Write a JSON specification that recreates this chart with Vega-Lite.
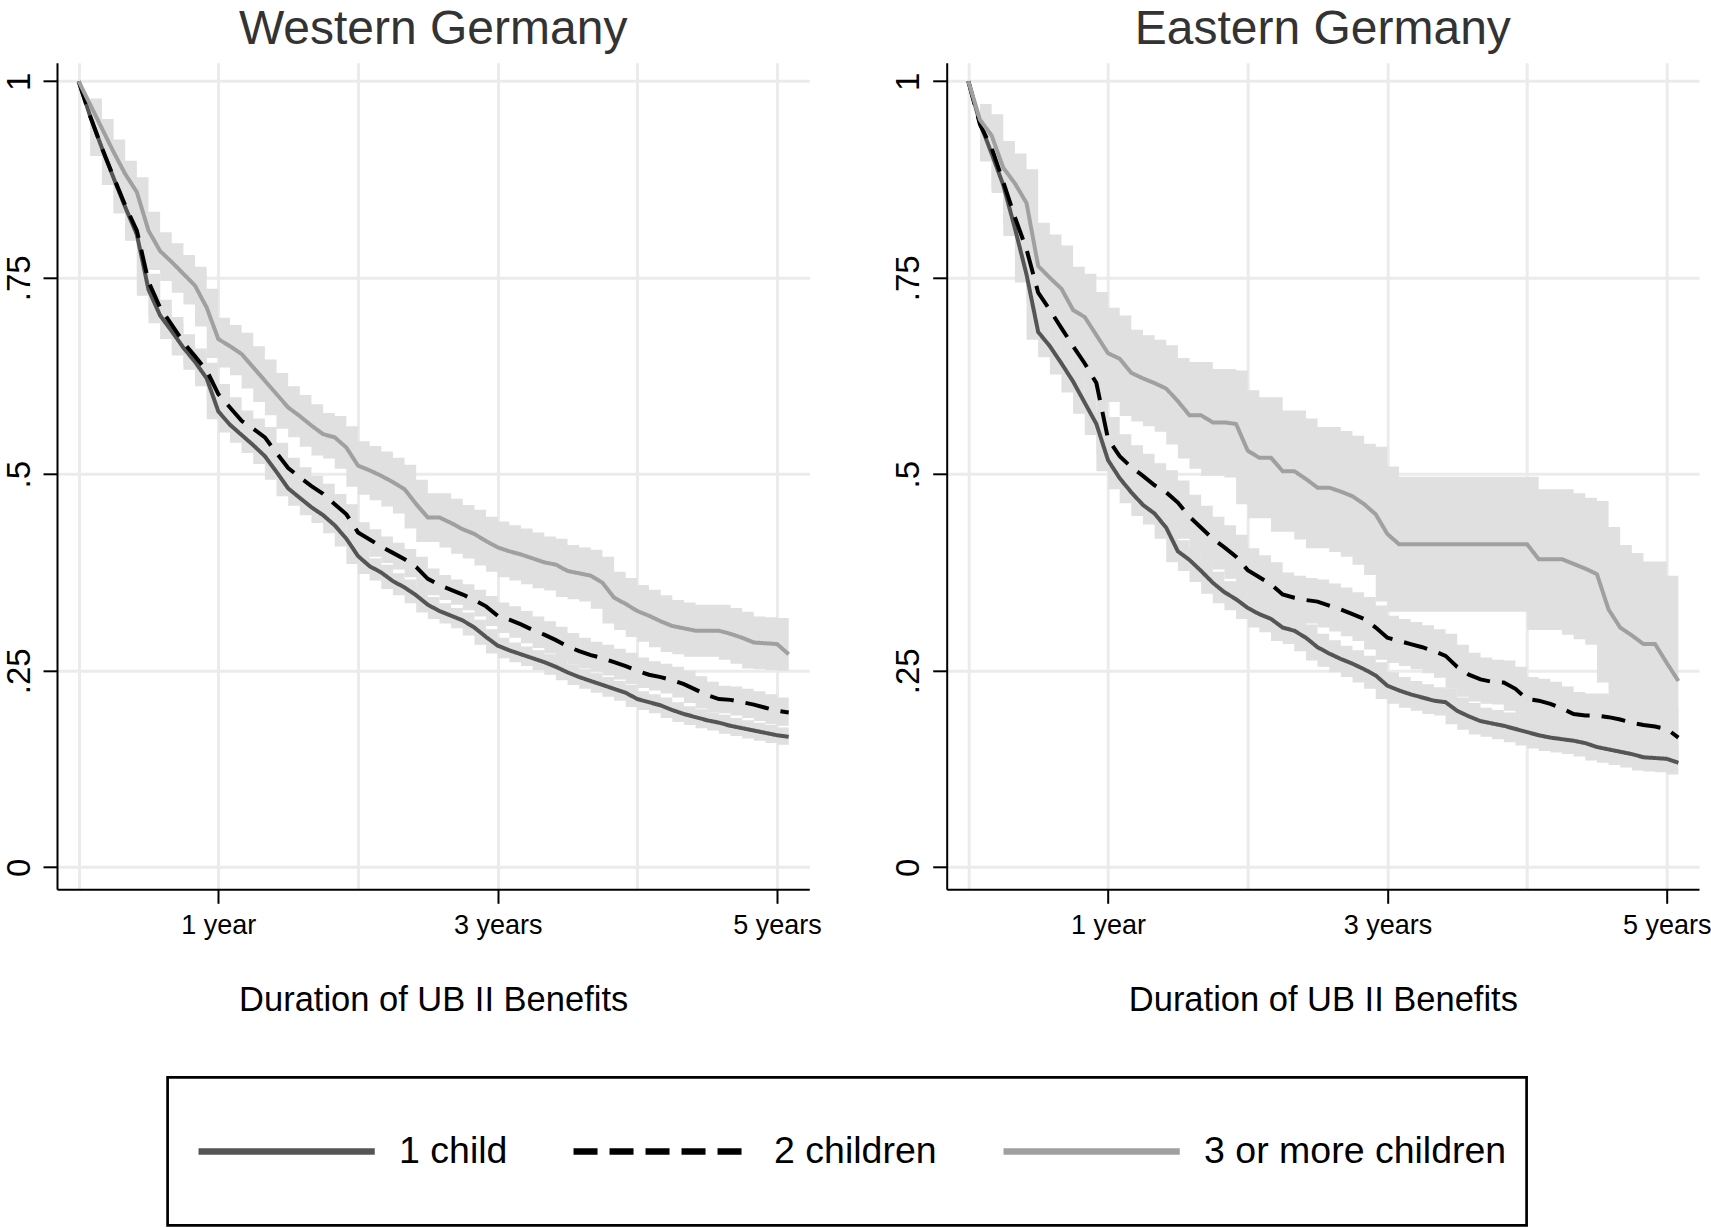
{
"$schema": "https://vega.github.io/schema/vega-lite/v6.json",
"background": "white",
"autosize": {"type": "pad"},
"padding": {"left": 3, "top": 5.8, "right": 0, "bottom": 0},
"config": {
  "font": "Liberation Sans",
  "view": {"stroke": null},
  "axis": {"domainColor": "black", "domainWidth": 2, "tickColor": "black", "tickWidth": 2, "tickSize": 14, "gridColor": "#ebebeb", "gridWidth": 3, "labelColor": "black", "labelFont": "Liberation Sans", "titleFont": "Liberation Sans", "titleColor": "black", "titleFontWeight": "normal"}
},
"data": {"values": [
{"r":"Western Germany","g":"1 child","m":0,"s":1,"lo":1,"hi":1},
{"r":"Western Germany","g":"1 child","m":1,"s":0.955,"lo":0.907,"hi":0.963},
{"r":"Western Germany","g":"1 child","m":2,"s":0.915,"lo":0.869,"hi":0.923},
{"r":"Western Germany","g":"1 child","m":3,"s":0.877,"lo":0.832,"hi":0.885},
{"r":"Western Germany","g":"1 child","m":4,"s":0.840,"lo":0.797,"hi":0.848},
{"r":"Western Germany","g":"1 child","m":5,"s":0.805,"lo":0.727,"hi":0.813},
{"r":"Western Germany","g":"1 child","m":6,"s":0.735,"lo":0.692,"hi":0.745},
{"r":"Western Germany","g":"1 child","m":7,"s":0.702,"lo":0.672,"hi":0.712},
{"r":"Western Germany","g":"1 child","m":8,"s":0.682,"lo":0.651,"hi":0.692},
{"r":"Western Germany","g":"1 child","m":9,"s":0.661,"lo":0.633,"hi":0.671},
{"r":"Western Germany","g":"1 child","m":10,"s":0.643,"lo":0.612,"hi":0.653},
{"r":"Western Germany","g":"1 child","m":11,"s":0.622,"lo":0.570,"hi":0.632},
{"r":"Western Germany","g":"1 child","m":12,"s":0.580,"lo":0.553,"hi":0.590},
{"r":"Western Germany","g":"1 child","m":13,"s":0.563,"lo":0.540,"hi":0.573},
{"r":"Western Germany","g":"1 child","m":14,"s":0.550,"lo":0.527,"hi":0.560},
{"r":"Western Germany","g":"1 child","m":15,"s":0.537,"lo":0.513,"hi":0.547},
{"r":"Western Germany","g":"1 child","m":16,"s":0.523,"lo":0.493,"hi":0.533},
{"r":"Western Germany","g":"1 child","m":17,"s":0.503,"lo":0.472,"hi":0.513},
{"r":"Western Germany","g":"1 child","m":18,"s":0.482,"lo":0.460,"hi":0.492},
{"r":"Western Germany","g":"1 child","m":19,"s":0.470,"lo":0.448,"hi":0.480},
{"r":"Western Germany","g":"1 child","m":20,"s":0.458,"lo":0.438,"hi":0.468},
{"r":"Western Germany","g":"1 child","m":21,"s":0.448,"lo":0.425,"hi":0.458},
{"r":"Western Germany","g":"1 child","m":22,"s":0.435,"lo":0.408,"hi":0.445},
{"r":"Western Germany","g":"1 child","m":23,"s":0.418,"lo":0.386,"hi":0.428},
{"r":"Western Germany","g":"1 child","m":24,"s":0.396,"lo":0.373,"hi":0.406},
{"r":"Western Germany","g":"1 child","m":25,"s":0.383,"lo":0.365,"hi":0.393},
{"r":"Western Germany","g":"1 child","m":26,"s":0.375,"lo":0.354,"hi":0.385},
{"r":"Western Germany","g":"1 child","m":27,"s":0.364,"lo":0.346,"hi":0.374},
{"r":"Western Germany","g":"1 child","m":28,"s":0.356,"lo":0.336,"hi":0.366},
{"r":"Western Germany","g":"1 child","m":29,"s":0.346,"lo":0.324,"hi":0.356},
{"r":"Western Germany","g":"1 child","m":30,"s":0.334,"lo":0.316,"hi":0.344},
{"r":"Western Germany","g":"1 child","m":31,"s":0.326,"lo":0.310,"hi":0.336},
{"r":"Western Germany","g":"1 child","m":32,"s":0.320,"lo":0.304,"hi":0.330},
{"r":"Western Germany","g":"1 child","m":33,"s":0.314,"lo":0.295,"hi":0.324},
{"r":"Western Germany","g":"1 child","m":34,"s":0.305,"lo":0.283,"hi":0.315},
{"r":"Western Germany","g":"1 child","m":35,"s":0.293,"lo":0.272,"hi":0.303},
{"r":"Western Germany","g":"1 child","m":36,"s":0.282,"lo":0.266,"hi":0.292},
{"r":"Western Germany","g":"1 child","m":37,"s":0.276,"lo":0.261,"hi":0.286},
{"r":"Western Germany","g":"1 child","m":38,"s":0.271,"lo":0.256,"hi":0.281},
{"r":"Western Germany","g":"1 child","m":39,"s":0.266,"lo":0.251,"hi":0.276},
{"r":"Western Germany","g":"1 child","m":40,"s":0.261,"lo":0.245,"hi":0.271},
{"r":"Western Germany","g":"1 child","m":41,"s":0.255,"lo":0.238,"hi":0.265},
{"r":"Western Germany","g":"1 child","m":42,"s":0.248,"lo":0.232,"hi":0.258},
{"r":"Western Germany","g":"1 child","m":43,"s":0.242,"lo":0.227,"hi":0.252},
{"r":"Western Germany","g":"1 child","m":44,"s":0.237,"lo":0.222,"hi":0.247},
{"r":"Western Germany","g":"1 child","m":45,"s":0.232,"lo":0.217,"hi":0.242},
{"r":"Western Germany","g":"1 child","m":46,"s":0.227,"lo":0.212,"hi":0.237},
{"r":"Western Germany","g":"1 child","m":47,"s":0.222,"lo":0.204,"hi":0.232},
{"r":"Western Germany","g":"1 child","m":48,"s":0.214,"lo":0.200,"hi":0.224},
{"r":"Western Germany","g":"1 child","m":49,"s":0.210,"lo":0.196,"hi":0.220},
{"r":"Western Germany","g":"1 child","m":50,"s":0.206,"lo":0.190,"hi":0.216},
{"r":"Western Germany","g":"1 child","m":51,"s":0.200,"lo":0.185,"hi":0.210},
{"r":"Western Germany","g":"1 child","m":52,"s":0.195,"lo":0.181,"hi":0.205},
{"r":"Western Germany","g":"1 child","m":53,"s":0.191,"lo":0.177,"hi":0.201},
{"r":"Western Germany","g":"1 child","m":54,"s":0.187,"lo":0.174,"hi":0.197},
{"r":"Western Germany","g":"1 child","m":55,"s":0.184,"lo":0.170,"hi":0.194},
{"r":"Western Germany","g":"1 child","m":56,"s":0.180,"lo":0.167,"hi":0.190},
{"r":"Western Germany","g":"1 child","m":57,"s":0.177,"lo":0.164,"hi":0.187},
{"r":"Western Germany","g":"1 child","m":58,"s":0.174,"lo":0.161,"hi":0.184},
{"r":"Western Germany","g":"1 child","m":59,"s":0.171,"lo":0.158,"hi":0.181},
{"r":"Western Germany","g":"1 child","m":60,"s":0.168,"lo":0.156,"hi":0.178},
{"r":"Western Germany","g":"1 child","m":61,"s":0.166,"lo":0.156,"hi":0.178},
{"r":"Western Germany","g":"2 children","m":0,"s":1,"lo":1,"hi":1},
{"r":"Western Germany","g":"2 children","m":1,"s":0.955,"lo":0.905,"hi":0.965},
{"r":"Western Germany","g":"2 children","m":2,"s":0.915,"lo":0.868,"hi":0.925},
{"r":"Western Germany","g":"2 children","m":3,"s":0.878,"lo":0.832,"hi":0.888},
{"r":"Western Germany","g":"2 children","m":4,"s":0.842,"lo":0.800,"hi":0.852},
{"r":"Western Germany","g":"2 children","m":5,"s":0.810,"lo":0.735,"hi":0.820},
{"r":"Western Germany","g":"2 children","m":6,"s":0.745,"lo":0.702,"hi":0.755},
{"r":"Western Germany","g":"2 children","m":7,"s":0.712,"lo":0.680,"hi":0.722},
{"r":"Western Germany","g":"2 children","m":8,"s":0.690,"lo":0.658,"hi":0.700},
{"r":"Western Germany","g":"2 children","m":9,"s":0.668,"lo":0.640,"hi":0.678},
{"r":"Western Germany","g":"2 children","m":10,"s":0.650,"lo":0.622,"hi":0.660},
{"r":"Western Germany","g":"2 children","m":11,"s":0.632,"lo":0.592,"hi":0.642},
{"r":"Western Germany","g":"2 children","m":12,"s":0.602,"lo":0.572,"hi":0.615},
{"r":"Western Germany","g":"2 children","m":13,"s":0.585,"lo":0.555,"hi":0.598},
{"r":"Western Germany","g":"2 children","m":14,"s":0.568,"lo":0.545,"hi":0.581},
{"r":"Western Germany","g":"2 children","m":15,"s":0.558,"lo":0.534,"hi":0.571},
{"r":"Western Germany","g":"2 children","m":16,"s":0.547,"lo":0.514,"hi":0.560},
{"r":"Western Germany","g":"2 children","m":17,"s":0.527,"lo":0.495,"hi":0.540},
{"r":"Western Germany","g":"2 children","m":18,"s":0.508,"lo":0.483,"hi":0.521},
{"r":"Western Germany","g":"2 children","m":19,"s":0.496,"lo":0.472,"hi":0.509},
{"r":"Western Germany","g":"2 children","m":20,"s":0.485,"lo":0.462,"hi":0.498},
{"r":"Western Germany","g":"2 children","m":21,"s":0.475,"lo":0.449,"hi":0.488},
{"r":"Western Germany","g":"2 children","m":22,"s":0.462,"lo":0.436,"hi":0.475},
{"r":"Western Germany","g":"2 children","m":23,"s":0.449,"lo":0.413,"hi":0.462},
{"r":"Western Germany","g":"2 children","m":24,"s":0.426,"lo":0.404,"hi":0.439},
{"r":"Western Germany","g":"2 children","m":25,"s":0.417,"lo":0.395,"hi":0.430},
{"r":"Western Germany","g":"2 children","m":26,"s":0.408,"lo":0.387,"hi":0.421},
{"r":"Western Germany","g":"2 children","m":27,"s":0.400,"lo":0.379,"hi":0.413},
{"r":"Western Germany","g":"2 children","m":28,"s":0.392,"lo":0.369,"hi":0.405},
{"r":"Western Germany","g":"2 children","m":29,"s":0.382,"lo":0.354,"hi":0.395},
{"r":"Western Germany","g":"2 children","m":30,"s":0.367,"lo":0.346,"hi":0.380},
{"r":"Western Germany","g":"2 children","m":31,"s":0.359,"lo":0.340,"hi":0.372},
{"r":"Western Germany","g":"2 children","m":32,"s":0.353,"lo":0.334,"hi":0.366},
{"r":"Western Germany","g":"2 children","m":33,"s":0.347,"lo":0.327,"hi":0.360},
{"r":"Western Germany","g":"2 children","m":34,"s":0.340,"lo":0.319,"hi":0.353},
{"r":"Western Germany","g":"2 children","m":35,"s":0.332,"lo":0.307,"hi":0.345},
{"r":"Western Germany","g":"2 children","m":36,"s":0.320,"lo":0.298,"hi":0.337},
{"r":"Western Germany","g":"2 children","m":37,"s":0.315,"lo":0.292,"hi":0.332},
{"r":"Western Germany","g":"2 children","m":38,"s":0.309,"lo":0.285,"hi":0.326},
{"r":"Western Germany","g":"2 children","m":39,"s":0.302,"lo":0.279,"hi":0.319},
{"r":"Western Germany","g":"2 children","m":40,"s":0.296,"lo":0.272,"hi":0.313},
{"r":"Western Germany","g":"2 children","m":41,"s":0.289,"lo":0.264,"hi":0.306},
{"r":"Western Germany","g":"2 children","m":42,"s":0.281,"lo":0.258,"hi":0.298},
{"r":"Western Germany","g":"2 children","m":43,"s":0.275,"lo":0.253,"hi":0.292},
{"r":"Western Germany","g":"2 children","m":44,"s":0.270,"lo":0.249,"hi":0.287},
{"r":"Western Germany","g":"2 children","m":45,"s":0.266,"lo":0.244,"hi":0.283},
{"r":"Western Germany","g":"2 children","m":46,"s":0.261,"lo":0.239,"hi":0.278},
{"r":"Western Germany","g":"2 children","m":47,"s":0.256,"lo":0.233,"hi":0.273},
{"r":"Western Germany","g":"2 children","m":48,"s":0.250,"lo":0.228,"hi":0.267},
{"r":"Western Germany","g":"2 children","m":49,"s":0.245,"lo":0.225,"hi":0.262},
{"r":"Western Germany","g":"2 children","m":50,"s":0.242,"lo":0.221,"hi":0.259},
{"r":"Western Germany","g":"2 children","m":51,"s":0.238,"lo":0.216,"hi":0.255},
{"r":"Western Germany","g":"2 children","m":52,"s":0.233,"lo":0.209,"hi":0.250},
{"r":"Western Germany","g":"2 children","m":53,"s":0.226,"lo":0.202,"hi":0.243},
{"r":"Western Germany","g":"2 children","m":54,"s":0.219,"lo":0.197,"hi":0.236},
{"r":"Western Germany","g":"2 children","m":55,"s":0.214,"lo":0.196,"hi":0.231},
{"r":"Western Germany","g":"2 children","m":56,"s":0.213,"lo":0.193,"hi":0.230},
{"r":"Western Germany","g":"2 children","m":57,"s":0.210,"lo":0.190,"hi":0.227},
{"r":"Western Germany","g":"2 children","m":58,"s":0.207,"lo":0.186,"hi":0.224},
{"r":"Western Germany","g":"2 children","m":59,"s":0.203,"lo":0.182,"hi":0.220},
{"r":"Western Germany","g":"2 children","m":60,"s":0.199,"lo":0.180,"hi":0.216},
{"r":"Western Germany","g":"2 children","m":61,"s":0.197,"lo":0.180,"hi":0.216},
{"r":"Western Germany","g":"3 or more children","m":0,"s":1,"lo":1,"hi":1},
{"r":"Western Germany","g":"3 or more children","m":1,"s":0.970,"lo":0.932,"hi":0.978},
{"r":"Western Germany","g":"3 or more children","m":2,"s":0.940,"lo":0.898,"hi":0.952},
{"r":"Western Germany","g":"3 or more children","m":3,"s":0.910,"lo":0.866,"hi":0.926},
{"r":"Western Germany","g":"3 or more children","m":4,"s":0.882,"lo":0.842,"hi":0.899},
{"r":"Western Germany","g":"3 or more children","m":5,"s":0.859,"lo":0.791,"hi":0.878},
{"r":"Western Germany","g":"3 or more children","m":6,"s":0.810,"lo":0.760,"hi":0.834},
{"r":"Western Germany","g":"3 or more children","m":7,"s":0.784,"lo":0.746,"hi":0.808},
{"r":"Western Germany","g":"3 or more children","m":8,"s":0.770,"lo":0.731,"hi":0.794},
{"r":"Western Germany","g":"3 or more children","m":9,"s":0.755,"lo":0.716,"hi":0.779},
{"r":"Western Germany","g":"3 or more children","m":10,"s":0.740,"lo":0.688,"hi":0.764},
{"r":"Western Germany","g":"3 or more children","m":11,"s":0.712,"lo":0.648,"hi":0.736},
{"r":"Western Germany","g":"3 or more children","m":12,"s":0.672,"lo":0.636,"hi":0.699},
{"r":"Western Germany","g":"3 or more children","m":13,"s":0.663,"lo":0.626,"hi":0.690},
{"r":"Western Germany","g":"3 or more children","m":14,"s":0.653,"lo":0.609,"hi":0.680},
{"r":"Western Germany","g":"3 or more children","m":15,"s":0.636,"lo":0.592,"hi":0.663},
{"r":"Western Germany","g":"3 or more children","m":16,"s":0.619,"lo":0.575,"hi":0.646},
{"r":"Western Germany","g":"3 or more children","m":17,"s":0.602,"lo":0.558,"hi":0.629},
{"r":"Western Germany","g":"3 or more children","m":18,"s":0.585,"lo":0.547,"hi":0.612},
{"r":"Western Germany","g":"3 or more children","m":19,"s":0.574,"lo":0.535,"hi":0.601},
{"r":"Western Germany","g":"3 or more children","m":20,"s":0.562,"lo":0.524,"hi":0.589},
{"r":"Western Germany","g":"3 or more children","m":21,"s":0.551,"lo":0.520,"hi":0.578},
{"r":"Western Germany","g":"3 or more children","m":22,"s":0.547,"lo":0.507,"hi":0.574},
{"r":"Western Germany","g":"3 or more children","m":23,"s":0.534,"lo":0.484,"hi":0.561},
{"r":"Western Germany","g":"3 or more children","m":24,"s":0.511,"lo":0.474,"hi":0.542},
{"r":"Western Germany","g":"3 or more children","m":25,"s":0.505,"lo":0.467,"hi":0.536},
{"r":"Western Germany","g":"3 or more children","m":26,"s":0.498,"lo":0.459,"hi":0.529},
{"r":"Western Germany","g":"3 or more children","m":27,"s":0.490,"lo":0.450,"hi":0.521},
{"r":"Western Germany","g":"3 or more children","m":28,"s":0.481,"lo":0.431,"hi":0.512},
{"r":"Western Germany","g":"3 or more children","m":29,"s":0.462,"lo":0.414,"hi":0.493},
{"r":"Western Germany","g":"3 or more children","m":30,"s":0.445,"lo":0.414,"hi":0.476},
{"r":"Western Germany","g":"3 or more children","m":31,"s":0.445,"lo":0.407,"hi":0.476},
{"r":"Western Germany","g":"3 or more children","m":32,"s":0.438,"lo":0.399,"hi":0.469},
{"r":"Western Germany","g":"3 or more children","m":33,"s":0.430,"lo":0.393,"hi":0.461},
{"r":"Western Germany","g":"3 or more children","m":34,"s":0.424,"lo":0.384,"hi":0.455},
{"r":"Western Germany","g":"3 or more children","m":35,"s":0.415,"lo":0.376,"hi":0.446},
{"r":"Western Germany","g":"3 or more children","m":36,"s":0.407,"lo":0.369,"hi":0.440},
{"r":"Western Germany","g":"3 or more children","m":37,"s":0.402,"lo":0.365,"hi":0.435},
{"r":"Western Germany","g":"3 or more children","m":38,"s":0.398,"lo":0.360,"hi":0.431},
{"r":"Western Germany","g":"3 or more children","m":39,"s":0.393,"lo":0.355,"hi":0.426},
{"r":"Western Germany","g":"3 or more children","m":40,"s":0.388,"lo":0.352,"hi":0.421},
{"r":"Western Germany","g":"3 or more children","m":41,"s":0.385,"lo":0.344,"hi":0.418},
{"r":"Western Germany","g":"3 or more children","m":42,"s":0.377,"lo":0.341,"hi":0.410},
{"r":"Western Germany","g":"3 or more children","m":43,"s":0.374,"lo":0.338,"hi":0.407},
{"r":"Western Germany","g":"3 or more children","m":44,"s":0.371,"lo":0.329,"hi":0.404},
{"r":"Western Germany","g":"3 or more children","m":45,"s":0.362,"lo":0.310,"hi":0.395},
{"r":"Western Germany","g":"3 or more children","m":46,"s":0.343,"lo":0.302,"hi":0.376},
{"r":"Western Germany","g":"3 or more children","m":47,"s":0.335,"lo":0.293,"hi":0.368},
{"r":"Western Germany","g":"3 or more children","m":48,"s":0.326,"lo":0.287,"hi":0.359},
{"r":"Western Germany","g":"3 or more children","m":49,"s":0.320,"lo":0.280,"hi":0.353},
{"r":"Western Germany","g":"3 or more children","m":50,"s":0.313,"lo":0.274,"hi":0.346},
{"r":"Western Germany","g":"3 or more children","m":51,"s":0.307,"lo":0.271,"hi":0.340},
{"r":"Western Germany","g":"3 or more children","m":52,"s":0.304,"lo":0.268,"hi":0.337},
{"r":"Western Germany","g":"3 or more children","m":53,"s":0.301,"lo":0.268,"hi":0.334},
{"r":"Western Germany","g":"3 or more children","m":54,"s":0.301,"lo":0.268,"hi":0.334},
{"r":"Western Germany","g":"3 or more children","m":55,"s":0.301,"lo":0.264,"hi":0.334},
{"r":"Western Germany","g":"3 or more children","m":56,"s":0.297,"lo":0.259,"hi":0.330},
{"r":"Western Germany","g":"3 or more children","m":57,"s":0.292,"lo":0.253,"hi":0.325},
{"r":"Western Germany","g":"3 or more children","m":58,"s":0.286,"lo":0.252,"hi":0.319},
{"r":"Western Germany","g":"3 or more children","m":59,"s":0.285,"lo":0.251,"hi":0.318},
{"r":"Western Germany","g":"3 or more children","m":60,"s":0.284,"lo":0.250,"hi":0.317},
{"r":"Western Germany","g":"3 or more children","m":61,"s":0.271,"lo":0.250,"hi":0.317},
{"r":"Eastern Germany","g":"1 child","m":0,"s":1,"lo":1,"hi":1},
{"r":"Eastern Germany","g":"1 child","m":1,"s":0.947,"lo":0.898,"hi":0.957},
{"r":"Eastern Germany","g":"1 child","m":2,"s":0.908,"lo":0.858,"hi":0.918},
{"r":"Eastern Germany","g":"1 child","m":3,"s":0.868,"lo":0.803,"hi":0.878},
{"r":"Eastern Germany","g":"1 child","m":4,"s":0.813,"lo":0.744,"hi":0.823},
{"r":"Eastern Germany","g":"1 child","m":5,"s":0.754,"lo":0.671,"hi":0.764},
{"r":"Eastern Germany","g":"1 child","m":6,"s":0.681,"lo":0.649,"hi":0.695},
{"r":"Eastern Germany","g":"1 child","m":7,"s":0.663,"lo":0.627,"hi":0.677},
{"r":"Eastern Germany","g":"1 child","m":8,"s":0.641,"lo":0.604,"hi":0.655},
{"r":"Eastern Germany","g":"1 child","m":9,"s":0.618,"lo":0.577,"hi":0.632},
{"r":"Eastern Germany","g":"1 child","m":10,"s":0.591,"lo":0.550,"hi":0.605},
{"r":"Eastern Germany","g":"1 child","m":11,"s":0.564,"lo":0.504,"hi":0.578},
{"r":"Eastern Germany","g":"1 child","m":12,"s":0.518,"lo":0.481,"hi":0.532},
{"r":"Eastern Germany","g":"1 child","m":13,"s":0.495,"lo":0.463,"hi":0.509},
{"r":"Eastern Germany","g":"1 child","m":14,"s":0.477,"lo":0.447,"hi":0.491},
{"r":"Eastern Germany","g":"1 child","m":15,"s":0.461,"lo":0.436,"hi":0.475},
{"r":"Eastern Germany","g":"1 child","m":16,"s":0.450,"lo":0.418,"hi":0.464},
{"r":"Eastern Germany","g":"1 child","m":17,"s":0.432,"lo":0.388,"hi":0.446},
{"r":"Eastern Germany","g":"1 child","m":18,"s":0.402,"lo":0.377,"hi":0.416},
{"r":"Eastern Germany","g":"1 child","m":19,"s":0.391,"lo":0.363,"hi":0.405},
{"r":"Eastern Germany","g":"1 child","m":20,"s":0.377,"lo":0.348,"hi":0.391},
{"r":"Eastern Germany","g":"1 child","m":21,"s":0.362,"lo":0.336,"hi":0.376},
{"r":"Eastern Germany","g":"1 child","m":22,"s":0.350,"lo":0.327,"hi":0.364},
{"r":"Eastern Germany","g":"1 child","m":23,"s":0.341,"lo":0.316,"hi":0.355},
{"r":"Eastern Germany","g":"1 child","m":24,"s":0.330,"lo":0.305,"hi":0.347},
{"r":"Eastern Germany","g":"1 child","m":25,"s":0.322,"lo":0.299,"hi":0.339},
{"r":"Eastern Germany","g":"1 child","m":26,"s":0.316,"lo":0.288,"hi":0.333},
{"r":"Eastern Germany","g":"1 child","m":27,"s":0.305,"lo":0.284,"hi":0.322},
{"r":"Eastern Germany","g":"1 child","m":28,"s":0.301,"lo":0.275,"hi":0.318},
{"r":"Eastern Germany","g":"1 child","m":29,"s":0.292,"lo":0.263,"hi":0.309},
{"r":"Eastern Germany","g":"1 child","m":30,"s":0.280,"lo":0.255,"hi":0.297},
{"r":"Eastern Germany","g":"1 child","m":31,"s":0.272,"lo":0.248,"hi":0.289},
{"r":"Eastern Germany","g":"1 child","m":32,"s":0.265,"lo":0.242,"hi":0.282},
{"r":"Eastern Germany","g":"1 child","m":33,"s":0.259,"lo":0.235,"hi":0.276},
{"r":"Eastern Germany","g":"1 child","m":34,"s":0.252,"lo":0.227,"hi":0.269},
{"r":"Eastern Germany","g":"1 child","m":35,"s":0.244,"lo":0.214,"hi":0.261},
{"r":"Eastern Germany","g":"1 child","m":36,"s":0.231,"lo":0.208,"hi":0.248},
{"r":"Eastern Germany","g":"1 child","m":37,"s":0.225,"lo":0.203,"hi":0.242},
{"r":"Eastern Germany","g":"1 child","m":38,"s":0.220,"lo":0.199,"hi":0.237},
{"r":"Eastern Germany","g":"1 child","m":39,"s":0.216,"lo":0.195,"hi":0.233},
{"r":"Eastern Germany","g":"1 child","m":40,"s":0.212,"lo":0.193,"hi":0.229},
{"r":"Eastern Germany","g":"1 child","m":41,"s":0.210,"lo":0.182,"hi":0.227},
{"r":"Eastern Germany","g":"1 child","m":42,"s":0.199,"lo":0.175,"hi":0.216},
{"r":"Eastern Germany","g":"1 child","m":43,"s":0.192,"lo":0.169,"hi":0.209},
{"r":"Eastern Germany","g":"1 child","m":44,"s":0.186,"lo":0.166,"hi":0.203},
{"r":"Eastern Germany","g":"1 child","m":45,"s":0.183,"lo":0.163,"hi":0.200},
{"r":"Eastern Germany","g":"1 child","m":46,"s":0.180,"lo":0.159,"hi":0.197},
{"r":"Eastern Germany","g":"1 child","m":47,"s":0.176,"lo":0.155,"hi":0.193},
{"r":"Eastern Germany","g":"1 child","m":48,"s":0.172,"lo":0.151,"hi":0.189},
{"r":"Eastern Germany","g":"1 child","m":49,"s":0.168,"lo":0.148,"hi":0.185},
{"r":"Eastern Germany","g":"1 child","m":50,"s":0.165,"lo":0.146,"hi":0.182},
{"r":"Eastern Germany","g":"1 child","m":51,"s":0.163,"lo":0.144,"hi":0.180},
{"r":"Eastern Germany","g":"1 child","m":52,"s":0.161,"lo":0.141,"hi":0.178},
{"r":"Eastern Germany","g":"1 child","m":53,"s":0.158,"lo":0.136,"hi":0.175},
{"r":"Eastern Germany","g":"1 child","m":54,"s":0.153,"lo":0.133,"hi":0.170},
{"r":"Eastern Germany","g":"1 child","m":55,"s":0.150,"lo":0.130,"hi":0.167},
{"r":"Eastern Germany","g":"1 child","m":56,"s":0.147,"lo":0.127,"hi":0.164},
{"r":"Eastern Germany","g":"1 child","m":57,"s":0.144,"lo":0.123,"hi":0.161},
{"r":"Eastern Germany","g":"1 child","m":58,"s":0.140,"lo":0.122,"hi":0.157},
{"r":"Eastern Germany","g":"1 child","m":59,"s":0.139,"lo":0.121,"hi":0.156},
{"r":"Eastern Germany","g":"1 child","m":60,"s":0.138,"lo":0.118,"hi":0.155},
{"r":"Eastern Germany","g":"1 child","m":61,"s":0.133,"lo":0.118,"hi":0.155},
{"r":"Eastern Germany","g":"2 children","m":0,"s":1,"lo":1,"hi":1},
{"r":"Eastern Germany","g":"2 children","m":1,"s":0.945,"lo":0.903,"hi":0.957},
{"r":"Eastern Germany","g":"2 children","m":2,"s":0.915,"lo":0.860,"hi":0.927},
{"r":"Eastern Germany","g":"2 children","m":3,"s":0.872,"lo":0.815,"hi":0.884},
{"r":"Eastern Germany","g":"2 children","m":4,"s":0.827,"lo":0.774,"hi":0.839},
{"r":"Eastern Germany","g":"2 children","m":5,"s":0.786,"lo":0.719,"hi":0.798},
{"r":"Eastern Germany","g":"2 children","m":6,"s":0.731,"lo":0.689,"hi":0.751},
{"r":"Eastern Germany","g":"2 children","m":7,"s":0.709,"lo":0.666,"hi":0.729},
{"r":"Eastern Germany","g":"2 children","m":8,"s":0.686,"lo":0.643,"hi":0.706},
{"r":"Eastern Germany","g":"2 children","m":9,"s":0.663,"lo":0.621,"hi":0.683},
{"r":"Eastern Germany","g":"2 children","m":10,"s":0.641,"lo":0.596,"hi":0.661},
{"r":"Eastern Germany","g":"2 children","m":11,"s":0.616,"lo":0.525,"hi":0.636},
{"r":"Eastern Germany","g":"2 children","m":12,"s":0.545,"lo":0.495,"hi":0.573},
{"r":"Eastern Germany","g":"2 children","m":13,"s":0.523,"lo":0.481,"hi":0.551},
{"r":"Eastern Germany","g":"2 children","m":14,"s":0.509,"lo":0.470,"hi":0.537},
{"r":"Eastern Germany","g":"2 children","m":15,"s":0.498,"lo":0.458,"hi":0.526},
{"r":"Eastern Germany","g":"2 children","m":16,"s":0.486,"lo":0.449,"hi":0.514},
{"r":"Eastern Germany","g":"2 children","m":17,"s":0.477,"lo":0.436,"hi":0.505},
{"r":"Eastern Germany","g":"2 children","m":18,"s":0.464,"lo":0.418,"hi":0.492},
{"r":"Eastern Germany","g":"2 children","m":19,"s":0.446,"lo":0.404,"hi":0.474},
{"r":"Eastern Germany","g":"2 children","m":20,"s":0.432,"lo":0.390,"hi":0.460},
{"r":"Eastern Germany","g":"2 children","m":21,"s":0.418,"lo":0.379,"hi":0.446},
{"r":"Eastern Germany","g":"2 children","m":22,"s":0.407,"lo":0.367,"hi":0.435},
{"r":"Eastern Germany","g":"2 children","m":23,"s":0.395,"lo":0.350,"hi":0.423},
{"r":"Eastern Germany","g":"2 children","m":24,"s":0.378,"lo":0.341,"hi":0.406},
{"r":"Eastern Germany","g":"2 children","m":25,"s":0.369,"lo":0.332,"hi":0.397},
{"r":"Eastern Germany","g":"2 children","m":26,"s":0.360,"lo":0.319,"hi":0.388},
{"r":"Eastern Germany","g":"2 children","m":27,"s":0.347,"lo":0.315,"hi":0.375},
{"r":"Eastern Germany","g":"2 children","m":28,"s":0.343,"lo":0.312,"hi":0.371},
{"r":"Eastern Germany","g":"2 children","m":29,"s":0.340,"lo":0.310,"hi":0.368},
{"r":"Eastern Germany","g":"2 children","m":30,"s":0.338,"lo":0.305,"hi":0.366},
{"r":"Eastern Germany","g":"2 children","m":31,"s":0.333,"lo":0.300,"hi":0.361},
{"r":"Eastern Germany","g":"2 children","m":32,"s":0.328,"lo":0.294,"hi":0.356},
{"r":"Eastern Germany","g":"2 children","m":33,"s":0.322,"lo":0.288,"hi":0.350},
{"r":"Eastern Germany","g":"2 children","m":34,"s":0.316,"lo":0.277,"hi":0.344},
{"r":"Eastern Germany","g":"2 children","m":35,"s":0.305,"lo":0.264,"hi":0.333},
{"r":"Eastern Germany","g":"2 children","m":36,"s":0.292,"lo":0.260,"hi":0.320},
{"r":"Eastern Germany","g":"2 children","m":37,"s":0.288,"lo":0.256,"hi":0.316},
{"r":"Eastern Germany","g":"2 children","m":38,"s":0.284,"lo":0.252,"hi":0.312},
{"r":"Eastern Germany","g":"2 children","m":39,"s":0.280,"lo":0.247,"hi":0.308},
{"r":"Eastern Germany","g":"2 children","m":40,"s":0.275,"lo":0.241,"hi":0.303},
{"r":"Eastern Germany","g":"2 children","m":41,"s":0.269,"lo":0.227,"hi":0.297},
{"r":"Eastern Germany","g":"2 children","m":42,"s":0.255,"lo":0.217,"hi":0.283},
{"r":"Eastern Germany","g":"2 children","m":43,"s":0.245,"lo":0.211,"hi":0.273},
{"r":"Eastern Germany","g":"2 children","m":44,"s":0.239,"lo":0.208,"hi":0.267},
{"r":"Eastern Germany","g":"2 children","m":45,"s":0.236,"lo":0.207,"hi":0.264},
{"r":"Eastern Germany","g":"2 children","m":46,"s":0.235,"lo":0.199,"hi":0.263},
{"r":"Eastern Germany","g":"2 children","m":47,"s":0.227,"lo":0.186,"hi":0.255},
{"r":"Eastern Germany","g":"2 children","m":48,"s":0.214,"lo":0.184,"hi":0.242},
{"r":"Eastern Germany","g":"2 children","m":49,"s":0.212,"lo":0.180,"hi":0.240},
{"r":"Eastern Germany","g":"2 children","m":50,"s":0.208,"lo":0.174,"hi":0.236},
{"r":"Eastern Germany","g":"2 children","m":51,"s":0.202,"lo":0.167,"hi":0.230},
{"r":"Eastern Germany","g":"2 children","m":52,"s":0.195,"lo":0.165,"hi":0.223},
{"r":"Eastern Germany","g":"2 children","m":53,"s":0.193,"lo":0.165,"hi":0.221},
{"r":"Eastern Germany","g":"2 children","m":54,"s":0.193,"lo":0.163,"hi":0.221},
{"r":"Eastern Germany","g":"2 children","m":55,"s":0.191,"lo":0.160,"hi":0.219},
{"r":"Eastern Germany","g":"2 children","m":56,"s":0.188,"lo":0.156,"hi":0.216},
{"r":"Eastern Germany","g":"2 children","m":57,"s":0.184,"lo":0.153,"hi":0.212},
{"r":"Eastern Germany","g":"2 children","m":58,"s":0.181,"lo":0.151,"hi":0.209},
{"r":"Eastern Germany","g":"2 children","m":59,"s":0.179,"lo":0.148,"hi":0.207},
{"r":"Eastern Germany","g":"2 children","m":60,"s":0.176,"lo":0.137,"hi":0.204},
{"r":"Eastern Germany","g":"2 children","m":61,"s":0.165,"lo":0.137,"hi":0.204},
{"r":"Eastern Germany","g":"3 or more children","m":0,"s":1,"lo":1,"hi":1},
{"r":"Eastern Germany","g":"3 or more children","m":1,"s":0.951,"lo":0.911,"hi":0.971},
{"r":"Eastern Germany","g":"3 or more children","m":2,"s":0.931,"lo":0.863,"hi":0.958},
{"r":"Eastern Germany","g":"3 or more children","m":3,"s":0.890,"lo":0.836,"hi":0.924},
{"r":"Eastern Germany","g":"3 or more children","m":4,"s":0.870,"lo":0.807,"hi":0.908},
{"r":"Eastern Germany","g":"3 or more children","m":5,"s":0.845,"lo":0.722,"hi":0.888},
{"r":"Eastern Germany","g":"3 or more children","m":6,"s":0.765,"lo":0.695,"hi":0.820},
{"r":"Eastern Germany","g":"3 or more children","m":7,"s":0.750,"lo":0.681,"hi":0.805},
{"r":"Eastern Germany","g":"3 or more children","m":8,"s":0.736,"lo":0.654,"hi":0.791},
{"r":"Eastern Germany","g":"3 or more children","m":9,"s":0.709,"lo":0.645,"hi":0.764},
{"r":"Eastern Germany","g":"3 or more children","m":10,"s":0.700,"lo":0.622,"hi":0.755},
{"r":"Eastern Germany","g":"3 or more children","m":11,"s":0.677,"lo":0.599,"hi":0.732},
{"r":"Eastern Germany","g":"3 or more children","m":12,"s":0.654,"lo":0.592,"hi":0.712},
{"r":"Eastern Germany","g":"3 or more children","m":13,"s":0.647,"lo":0.574,"hi":0.702},
{"r":"Eastern Germany","g":"3 or more children","m":14,"s":0.629,"lo":0.567,"hi":0.684},
{"r":"Eastern Germany","g":"3 or more children","m":15,"s":0.622,"lo":0.561,"hi":0.677},
{"r":"Eastern Germany","g":"3 or more children","m":16,"s":0.616,"lo":0.554,"hi":0.671},
{"r":"Eastern Germany","g":"3 or more children","m":17,"s":0.609,"lo":0.538,"hi":0.664},
{"r":"Eastern Germany","g":"3 or more children","m":18,"s":0.593,"lo":0.520,"hi":0.648},
{"r":"Eastern Germany","g":"3 or more children","m":19,"s":0.575,"lo":0.507,"hi":0.643},
{"r":"Eastern Germany","g":"3 or more children","m":20,"s":0.575,"lo":0.498,"hi":0.643},
{"r":"Eastern Germany","g":"3 or more children","m":21,"s":0.566,"lo":0.498,"hi":0.634},
{"r":"Eastern Germany","g":"3 or more children","m":22,"s":0.566,"lo":0.496,"hi":0.634},
{"r":"Eastern Germany","g":"3 or more children","m":23,"s":0.564,"lo":0.462,"hi":0.632},
{"r":"Eastern Germany","g":"3 or more children","m":24,"s":0.530,"lo":0.444,"hi":0.607},
{"r":"Eastern Germany","g":"3 or more children","m":25,"s":0.521,"lo":0.444,"hi":0.598},
{"r":"Eastern Germany","g":"3 or more children","m":26,"s":0.521,"lo":0.427,"hi":0.598},
{"r":"Eastern Germany","g":"3 or more children","m":27,"s":0.504,"lo":0.427,"hi":0.581},
{"r":"Eastern Germany","g":"3 or more children","m":28,"s":0.504,"lo":0.417,"hi":0.581},
{"r":"Eastern Germany","g":"3 or more children","m":29,"s":0.494,"lo":0.406,"hi":0.571},
{"r":"Eastern Germany","g":"3 or more children","m":30,"s":0.483,"lo":0.406,"hi":0.560},
{"r":"Eastern Germany","g":"3 or more children","m":31,"s":0.483,"lo":0.401,"hi":0.560},
{"r":"Eastern Germany","g":"3 or more children","m":32,"s":0.478,"lo":0.395,"hi":0.555},
{"r":"Eastern Germany","g":"3 or more children","m":33,"s":0.472,"lo":0.385,"hi":0.549},
{"r":"Eastern Germany","g":"3 or more children","m":34,"s":0.462,"lo":0.372,"hi":0.539},
{"r":"Eastern Germany","g":"3 or more children","m":35,"s":0.449,"lo":0.338,"hi":0.535},
{"r":"Eastern Germany","g":"3 or more children","m":36,"s":0.424,"lo":0.325,"hi":0.510},
{"r":"Eastern Germany","g":"3 or more children","m":37,"s":0.411,"lo":0.325,"hi":0.497},
{"r":"Eastern Germany","g":"3 or more children","m":38,"s":0.411,"lo":0.325,"hi":0.497},
{"r":"Eastern Germany","g":"3 or more children","m":39,"s":0.411,"lo":0.325,"hi":0.497},
{"r":"Eastern Germany","g":"3 or more children","m":40,"s":0.411,"lo":0.325,"hi":0.497},
{"r":"Eastern Germany","g":"3 or more children","m":41,"s":0.411,"lo":0.325,"hi":0.497},
{"r":"Eastern Germany","g":"3 or more children","m":42,"s":0.411,"lo":0.325,"hi":0.497},
{"r":"Eastern Germany","g":"3 or more children","m":43,"s":0.411,"lo":0.325,"hi":0.497},
{"r":"Eastern Germany","g":"3 or more children","m":44,"s":0.411,"lo":0.325,"hi":0.497},
{"r":"Eastern Germany","g":"3 or more children","m":45,"s":0.411,"lo":0.325,"hi":0.497},
{"r":"Eastern Germany","g":"3 or more children","m":46,"s":0.411,"lo":0.325,"hi":0.497},
{"r":"Eastern Germany","g":"3 or more children","m":47,"s":0.411,"lo":0.325,"hi":0.497},
{"r":"Eastern Germany","g":"3 or more children","m":48,"s":0.411,"lo":0.302,"hi":0.497},
{"r":"Eastern Germany","g":"3 or more children","m":49,"s":0.392,"lo":0.302,"hi":0.481},
{"r":"Eastern Germany","g":"3 or more children","m":50,"s":0.392,"lo":0.302,"hi":0.481},
{"r":"Eastern Germany","g":"3 or more children","m":51,"s":0.392,"lo":0.296,"hi":0.481},
{"r":"Eastern Germany","g":"3 or more children","m":52,"s":0.386,"lo":0.290,"hi":0.476},
{"r":"Eastern Germany","g":"3 or more children","m":53,"s":0.380,"lo":0.283,"hi":0.470},
{"r":"Eastern Germany","g":"3 or more children","m":54,"s":0.373,"lo":0.235,"hi":0.466},
{"r":"Eastern Germany","g":"3 or more children","m":55,"s":0.328,"lo":0.200,"hi":0.433},
{"r":"Eastern Germany","g":"3 or more children","m":56,"s":0.305,"lo":0.190,"hi":0.410},
{"r":"Eastern Germany","g":"3 or more children","m":57,"s":0.295,"lo":0.179,"hi":0.400},
{"r":"Eastern Germany","g":"3 or more children","m":58,"s":0.284,"lo":0.179,"hi":0.389},
{"r":"Eastern Germany","g":"3 or more children","m":59,"s":0.284,"lo":0.155,"hi":0.389},
{"r":"Eastern Germany","g":"3 or more children","m":60,"s":0.260,"lo":0.132,"hi":0.371},
{"r":"Eastern Germany","g":"3 or more children","m":61,"s":0.237,"lo":0.132,"hi":0.371}
]},
"facet": {"column": {"field": "r", "type": "nominal", "sort": ["Western Germany", "Eastern Germany"], "title": null,
  "header": {"labelFontSize": 48, "labelColor": "#333333", "labelFont": "Liberation Sans", "labelPadding": 9}}},
"spacing": 136.7,
"bounds": "flush",
"resolve": {"axis": {"x": "independent", "y": "independent"}},
"spec": {
  "width": 752.3,
  "height": 826.5,
  "layer": [
    {"mark": {"type": "area", "interpolate": "step-after", "color": "#e0e0e0", "opacity": 1, "strokeWidth": 0},
     "encoding": {
       "x": {"field": "m", "type": "quantitative", "title": "Duration of UB II Benefits",
             "scale": {"domain": [-1.86, 62.77], "nice": false, "zero": false},
             "axis": {"values": [0, 12, 24, 36, 48, 60],
                      "labelExpr": "datum.value == 12 ? '1 year' : datum.value == 36 ? '3 years' : datum.value == 60 ? '5 years' : ''",
                      "tickOpacity": {"condition": {"test": "datum.value == 12 || datum.value == 36 || datum.value == 60", "value": 1}, "value": 0},
                      "grid": true, "labelFontSize": 27, "labelPadding": 9, "labelFlush": false, "labelOverlap": false,
                      "titleFontSize": 34.5, "titlePadding": 45}},
       "y": {"field": "lo", "type": "quantitative", "title": null,
             "scale": {"domain": [-0.028, 1.0235], "nice": false, "zero": false},
             "axis": {"values": [0, 0.25, 0.5, 0.75, 1],
                      "labelExpr": "datum.value == 0 ? '0' : datum.value == 0.25 ? '.25' : datum.value == 0.5 ? '.5' : datum.value == 0.75 ? '.75' : '1'",
                      "grid": true, "labelAngle": -90, "labelAlign": "center", "labelBaseline": "alphabetic",
                      "labelPadding": 14, "labelFontSize": 33, "labelOverlap": false}},
       "y2": {"field": "hi"},
       "detail": {"field": "g", "type": "nominal"}
     }},
    {"mark": {"type": "line", "strokeWidth": 4},
     "encoding": {
       "x": {"field": "m", "type": "quantitative", "title": "Duration of UB II Benefits"},
       "y": {"field": "s", "type": "quantitative", "title": null},
       "color": {"field": "g", "type": "nominal",
                 "scale": {"domain": ["1 child", "2 children", "3 or more children"], "range": ["#555555", "#000000", "#a0a0a0"]},
                 "legend": {"title": null, "orient": "none", "legendX": 110.6, "legendY": 1014.5, "direction": "horizontal",
                            "symbolType": "M-0.849,0H2.624M0,0.796", "symbolSize": 10302, "symbolStrokeWidth": 6.5,
                            "labelFontSize": 37.5, "labelFont": "Liberation Sans", "labelColor": "black", "labelOffset": 103.5, "labelLimit": 600,
                            "columnPadding": 52, "padding": 20, "strokeColor": "black",
                            "encode": {"legend": {"update": {"strokeWidth": {"value": 2.7}}}, "symbols": {"update": {"strokeWidth": {"value": 6.5}}}}}},
       "strokeDash": {"field": "g", "type": "nominal",
                 "scale": {"domain": ["1 child", "2 children", "3 or more children"], "range": [[1, 0], [24, 12], [1, 0]]},
                 "legend": {"title": null, "orient": "none", "legendX": 110.6, "legendY": 1014.5, "direction": "horizontal",
                            "symbolType": "M-0.849,0H2.624M0,0.796", "symbolSize": 10302, "symbolStrokeWidth": 6.5,
                            "labelFontSize": 37.5, "labelFont": "Liberation Sans", "labelColor": "black", "labelOffset": 103.5, "labelLimit": 600,
                            "columnPadding": 52, "padding": 20, "strokeColor": "black",
                            "encode": {"legend": {"update": {"strokeWidth": {"value": 2.7}}}, "symbols": {"update": {"strokeWidth": {"value": 6.5}}}}}}
     }}
  ]
}
}
